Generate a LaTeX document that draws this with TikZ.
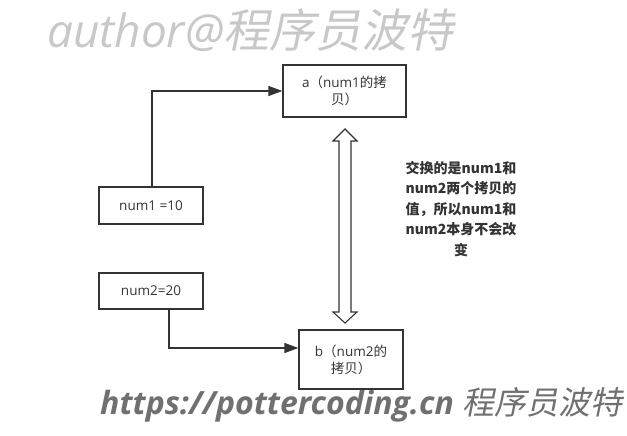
\documentclass[tikz,border=0pt]{standalone}
\usepackage{fontspec}
\setmainfont{Noto Sans CJK SC}
\newfontfamily\cjk{Noto Sans CJK SC}[AutoFakeSlant=0.2]
\newfontfamily\latinit{Open Sans}
\newcommand\lat[1]{{\latinit #1}}
\usetikzlibrary{arrows.meta}
\definecolor{linec}{HTML}{333333}
\definecolor{wmlight}{HTML}{C8C8C8}
\definecolor{wmdark}{HTML}{707070}
\tikzset{
  boxnode/.style={draw=linec, line width=1.3pt, text=linec, font=\fontsize{13.5}{17}\selectfont, align=center, inner sep=0pt},
  conn/.style={draw=linec, line width=1.3pt, -{Triangle[length=14pt,width=10pt]}},
}
\begin{document}
\begin{tikzpicture}[x=1pt,y=-1pt]
\useasboundingbox (0,0) rectangle (627,436);
% watermarks
\node[anchor=west, inner sep=0pt, text=wmlight] (wm1) at (47,30) {\resizebox{406pt}{!}{\latinit\itshape author@\cjk 程序员波特}};
\node[anchor=west, inner sep=0pt, text=wmdark] (wm2) at (100,405) {\resizebox{522pt}{!}{\latinit\bfseries\itshape https://pottercoding.cn \cjk\mdseries\itshape 程序员波特}};
% boxes
\node[boxnode, minimum width=123pt, minimum height=52pt] (a) at (344.5,91) {\lat{a}（\lat{num1}的拷\\贝）};
\node[boxnode, minimum width=104pt, minimum height=37pt] (n1) at (151,205.5) {\lat{num1 =10}};
\node[boxnode, minimum width=104pt, minimum height=36pt] (n2) at (151,291) {\lat{num2=20}};
\node[boxnode, minimum width=104pt, minimum height=59pt] (b) at (351,359.5) {\lat{b}（\lat{num2}的\\拷贝）};
% connectors
\coordinate (c1) at (152,91);
\coordinate (c2) at (169,348);
\draw[conn] (n1.north -| c1) -- (c1) -- (a.west);
\draw[conn] (n2.south -| c2) -- (c2) -- (b.west |- c2);
% double block arrow
\coordinate (top) at (345,129);
\coordinate (bot) at (345,323);
\draw[linec, line width=1.1pt, fill=white, line join=miter]
  (top) -- ++(12,12) -- ++(-6,0) -- (351,312) -- (357,312) -- (bot)
  -- (333,312) -- (339,312) -- (339,141) -- (333,141) -- cycle;
% note
\node[text=linec, font=\fontsize{14}{20.5}\selectfont\bfseries, align=center, inner sep=0pt] (note) at (461,209)
  {交换的是num1和\\num2两个拷贝的\\值，所以num1和\\num2本身不会改\\变};
\end{tikzpicture}
\end{document}
